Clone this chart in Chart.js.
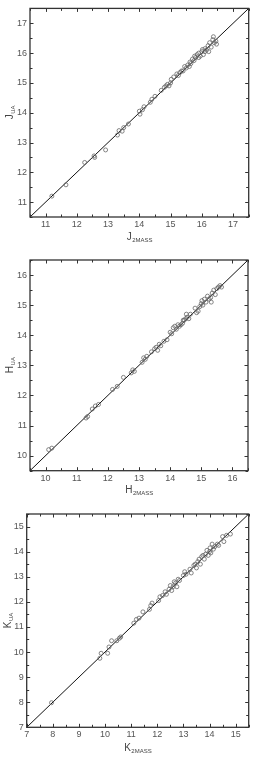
<!DOCTYPE html>
<html lang="en">
  <head>
    <meta charset="UTF-8" />
    <title>J H K comparison</title>
    <script src="https://cdn.jsdelivr.net/npm/chart.js"></script>
    <style>
      body { margin: 0; background: #fff; }
      .panel { position: absolute; left: 0; width: 254px; }
    </style>
  </head>
  <body>
    <div class="panel" style="top: 0px"><canvas id="chartJ" width="254" height="250"></canvas></div>
    <div class="panel" style="top: 250px"><canvas id="chartH" width="254" height="250"></canvas></div>
    <div class="panel" style="top: 500px"><canvas id="chartK" width="254" height="260"></canvas></div>
    <script>
      // J band: 2MASS vs UA
      const j2mass = [11.2, 11.65, 12.25, 12.55, 12.57, 12.92, 13.3, 13.35, 13.45, 13.5, 13.65,
        14.0, 14.02, 14.1, 14.15, 14.35, 14.4, 14.5, 14.7, 14.8, 14.85, 14.9, 14.95, 15.0, 15.02,
        15.1, 15.2, 15.25, 15.3, 15.35, 15.4, 15.5, 15.55, 15.6, 15.62, 15.65, 15.7, 15.75, 15.77,
        15.8, 15.85, 15.9, 15.95, 16.0, 16.02, 16.05, 16.1, 16.15, 16.2, 16.22, 16.25, 16.3, 16.35,
        16.37, 16.4, 16.45, 16.47, 15.45, 15.9, 16.1];
      const jUA = [11.2, 11.58, 12.33, 12.55, 12.5, 12.75, 13.25, 13.4, 13.38, 13.5, 13.62,
        14.05, 13.95, 14.1, 14.2, 14.35, 14.45, 14.55, 14.75, 14.85, 14.9, 14.95, 14.9, 15.0, 15.12,
        15.2, 15.3, 15.25, 15.35, 15.4, 15.4, 15.5, 15.6, 15.55, 15.7, 15.65, 15.8, 15.75, 15.9,
        15.85, 15.95, 16.0, 15.9, 16.05, 16.12, 15.95, 16.15, 16.1, 16.25, 16.05, 16.35, 16.2, 16.45,
        16.55, 16.35, 16.4, 16.3, 15.55, 15.85, 16.05];
      const jTicks = [11, 12, 13, 14, 15, 16, 17];

      // H band
      const h2mass = [10.1, 10.2, 11.3, 11.35, 11.5, 11.6, 11.7, 12.15, 12.3, 12.5, 12.75, 12.8,
        12.85, 13.1, 13.15, 13.2, 13.25, 13.4, 13.5, 13.55, 13.6, 13.65, 13.7, 13.8, 13.9, 14.0,
        14.05, 14.1, 14.15, 14.2, 14.25, 14.3, 14.35, 14.4, 14.45, 14.5, 14.55, 14.6, 14.65, 14.8,
        14.9, 14.95, 15.0, 15.02, 15.05, 15.1, 15.15, 15.2, 15.25, 15.3, 15.35, 15.4, 15.45, 15.5,
        15.55, 15.6, 15.65, 14.85, 15.32, 14.42, 14.52];
      const hUA = [10.2, 10.25, 11.25, 11.3, 11.55, 11.65, 11.7, 12.2, 12.3, 12.6, 12.75, 12.85,
        12.8, 13.1, 13.25, 13.2, 13.3, 13.45, 13.55, 13.6, 13.5, 13.7, 13.65, 13.8, 13.85, 14.1,
        14.05, 14.25, 14.3, 14.2, 14.35, 14.3, 14.35, 14.4, 14.5, 14.55, 14.6, 14.55, 14.7, 14.9,
        14.8, 14.95, 15.05, 15.15, 15.0, 15.2, 15.1, 15.3, 15.2, 15.25, 15.4, 15.5, 15.35, 15.55,
        15.6, 15.65, 15.6, 14.75, 15.1, 14.5, 14.7];
      const hTicks = [10, 11, 12, 13, 14, 15, 16];

      // K band
      const k2mass = [7.95, 9.8, 9.85, 10.1, 10.15, 10.25, 10.45, 10.55, 10.6, 11.1, 11.2, 11.3,
        11.45, 11.7, 11.75, 11.8, 12.05, 12.1, 12.2, 12.3, 12.35, 12.45, 12.5, 12.55, 12.6, 12.65,
        12.7, 12.75, 12.8, 12.85, 13.0, 13.05, 13.1, 13.25, 13.3, 13.4, 13.45, 13.5, 13.55, 13.6,
        13.65, 13.7, 13.75, 13.8, 13.85, 13.9, 13.95, 14.0, 14.02, 14.05, 14.1, 14.15, 14.2, 14.3,
        14.35, 14.5, 14.55, 14.65, 14.8];
      const kUA = [7.98, 9.75, 9.95, 9.95, 10.2, 10.45, 10.45, 10.55, 10.6, 11.15, 11.3, 11.35,
        11.6, 11.7, 11.85, 11.95, 12.05, 12.2, 12.25, 12.4, 12.3, 12.5, 12.65, 12.45, 12.6, 12.8,
        12.75, 12.6, 12.9, 12.85, 13.05, 13.2, 13.1, 13.3, 13.15, 13.45, 13.5, 13.35, 13.6, 13.7,
        13.5, 13.8, 13.85, 13.7, 13.9, 14.05, 13.85, 14.0, 14.15, 13.95, 14.3, 14.1, 14.2, 14.3,
        14.25, 14.6, 14.4, 14.65, 14.7];
      const kTicks = [7, 8, 9, 10, 11, 12, 13, 14, 15];

      const FONT = '"Liberation Sans", Arial, sans-serif';

      function drawSubText(ctx, main, sub, x, y, rotate) {
        ctx.save();
        ctx.translate(x, y);
        if (rotate) ctx.rotate(-Math.PI / 2);
        ctx.fillStyle = "#444";
        ctx.textBaseline = "middle";
        ctx.textAlign = "left";
        ctx.font = "10px " + FONT;
        const w1 = ctx.measureText(main).width;
        ctx.font = "6px " + FONT;
        const w2 = ctx.measureText(sub).width;
        const start = -(w1 + w2) / 2;
        ctx.font = "10px " + FONT;
        ctx.fillText(main, start, 0);
        ctx.font = "6px " + FONT;
        ctx.fillText(sub, start + w1 + 0.5, 3);
        ctx.restore();
      }

      // frame with inward ticks on all four sides + axis titles
      const frameTicks = {
        id: "frameTicks",
        afterDraw(chart, args, opts) {
          const { ctx, chartArea: a, scales } = chart;
          const x = scales.x, y = scales.y;
          ctx.save();
          ctx.strokeStyle = "#333";
          ctx.lineWidth = 1;
          for (let v = Math.ceil(x.min * 2) / 2; v <= x.max + 1e-9; v += 0.5) {
            const px = Math.round(x.getPixelForValue(v)) + 0.5;
            const len = Number.isInteger(v) ? 3.5 : 2.5;
            ctx.beginPath();
            ctx.moveTo(px, a.bottom); ctx.lineTo(px, a.bottom - len);
            ctx.moveTo(px, a.top); ctx.lineTo(px, a.top + len);
            ctx.stroke();
          }
          for (let v = Math.ceil(y.min * 2) / 2; v <= y.max + 1e-9; v += 0.5) {
            const py = Math.round(y.getPixelForValue(v)) + 0.5;
            const len = Number.isInteger(v) ? 3.5 : 2.5;
            ctx.beginPath();
            ctx.moveTo(a.left, py); ctx.lineTo(a.left + len, py);
            ctx.moveTo(a.right, py); ctx.lineTo(a.right - len, py);
            ctx.stroke();
          }
          ctx.lineWidth = 1.3;
          ctx.strokeRect(a.left, a.top, a.right - a.left, a.bottom - a.top);
          ctx.restore();
          drawSubText(ctx, opts.band, "2MASS", (a.left + a.right) / 2, a.bottom + opts.xTitleGap, false);
          drawSubText(ctx, opts.band, "UA", opts.yTitleX, (a.top + a.bottom) / 2, true);
        },
      };

      function drawPanel(tag, band, xs, ys, lo, hi, tickVals, lay) {
        const pts = xs.map((v, i) => ({ x: v, y: ys[i] }));
        const axisTicks = (scale) => {
          scale.ticks = tickVals.map((v) => ({ value: v }));
        };
        new Chart(document.getElementById(tag), {
          type: "scatter",
          data: {
            datasets: [
              {
                data: pts,
                pointStyle: "circle",
                pointRadius: 2,
                backgroundColor: "rgba(0,0,0,0)",
                borderColor: "#666",
                borderWidth: 0.8,
              },
              {
                type: "line",
                data: [{ x: lo, y: lo }, { x: hi, y: hi }],
                borderColor: "#111",
                borderWidth: 1,
                pointRadius: 0,
              },
            ],
          },
          options: {
            responsive: false,
            animation: false,
            devicePixelRatio: 1,
            layout: { padding: { top: lay.top, right: lay.right, left: 0, bottom: 0 } },
            plugins: {
              legend: { display: false },
              tooltip: { enabled: false },
              frameTicks: { band: band, xTitleGap: lay.xTitleGap, yTitleX: lay.yTitleX },
            },
            scales: {
              x: {
                type: "linear",
                min: lo,
                max: hi,
                grid: { display: false, drawTicks: false },
                border: { display: false },
                afterBuildTicks: axisTicks,
                afterFit: (s) => { s.height = lay.xAxis; },
                ticks: { padding: 2, color: "#555", font: { size: 9, family: FONT } },
              },
              y: {
                type: "linear",
                min: lo,
                max: hi,
                grid: { display: false, drawTicks: false },
                border: { display: false },
                afterBuildTicks: axisTicks,
                afterFit: (s) => { s.width = lay.yAxis; },
                ticks: { padding: 3, color: "#555", font: { size: 9, family: FONT } },
              },
            },
          },
          plugins: [frameTicks],
        });
      }

      drawPanel("chartJ", "J", j2mass, jUA, 10.5, 17.5, jTicks,
        { top: 5, right: 5.3, xAxis: 33, yAxis: 30, xTitleGap: 20, yTitleX: 10 });
      drawPanel("chartH", "H", h2mass, hUA, 9.5, 16.5, hTicks,
        { top: 10, right: 6, xAxis: 29.3, yAxis: 30, xTitleGap: 20, yTitleX: 10 });
      drawPanel("chartK", "K", k2mass, kUA, 7, 15.5, kTicks,
        { top: 14, right: 5.3, xAxis: 32.7, yAxis: 26.7, xTitleGap: 21, yTitleX: 8 });
    </script>
  </body>
</html>
